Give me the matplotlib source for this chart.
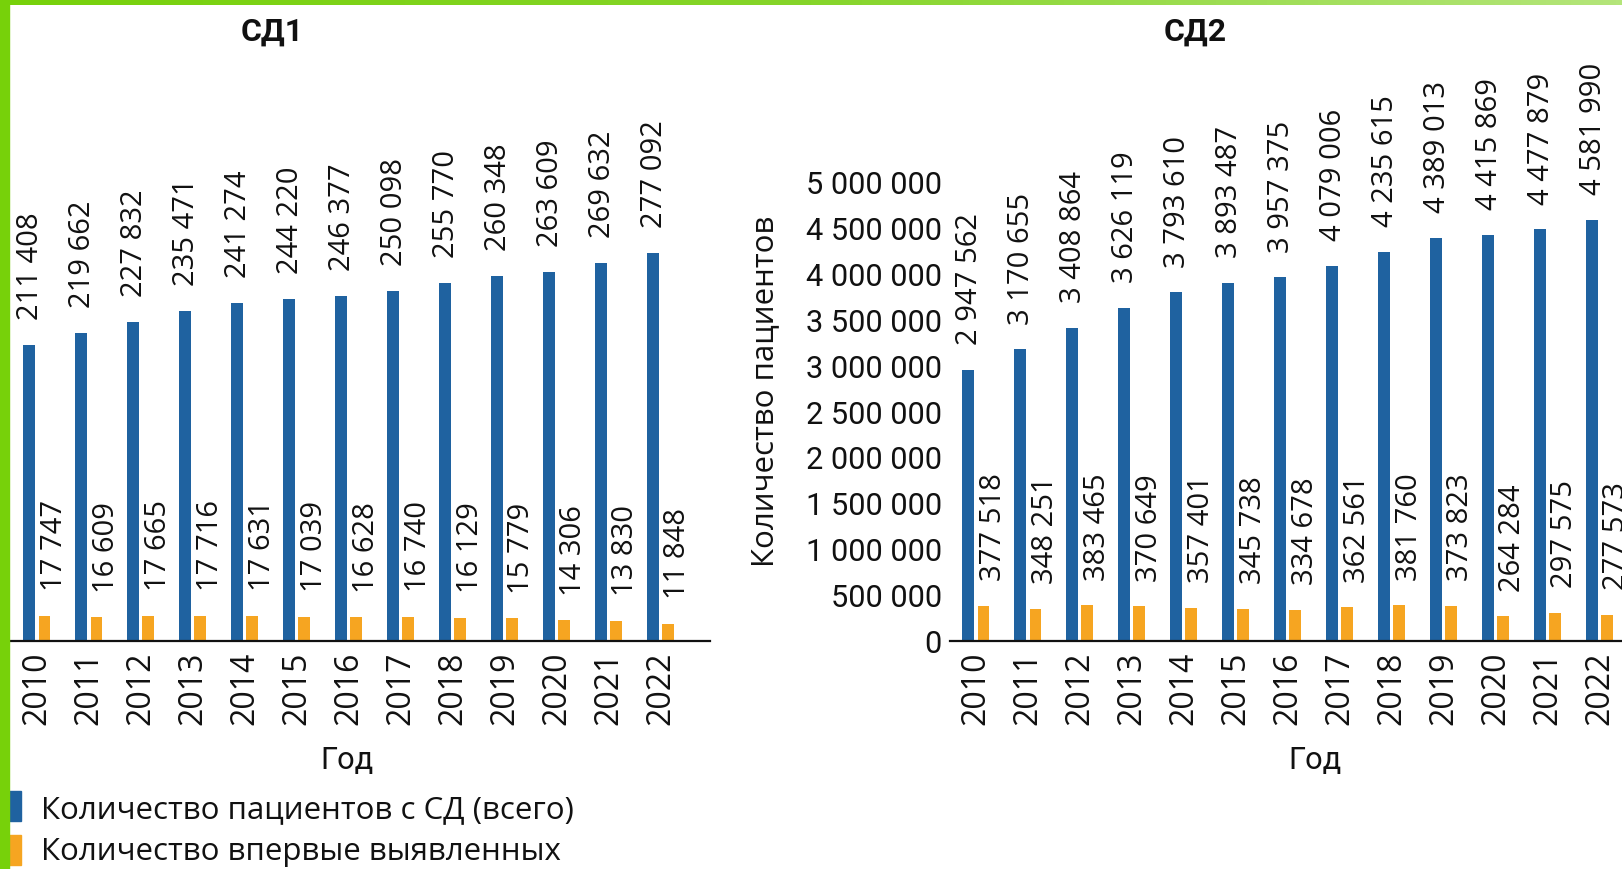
import numpy as np
import matplotlib
matplotlib.use("Agg")
import matplotlib.pyplot as plt
from matplotlib import font_manager
from matplotlib.font_manager import FontProperties
from matplotlib.patches import Rectangle
from matplotlib.colors import LinearSegmentedColormap

# ---------------- data ----------------
years = ['2010', '2011', '2012', '2013', '2014', '2015', '2016',
         '2017', '2018', '2019', '2020', '2021', '2022']
sd1_total = [211408, 219662, 227832, 235471, 241274, 244220, 246377,
             250098, 255770, 260348, 263609, 269632, 277092]
sd1_new = [17747, 16609, 17665, 17716, 17631, 17039, 16628,
           16740, 16129, 15779, 14306, 13830, 11848]
sd2_total = [2947562, 3170655, 3408864, 3626119, 3793610, 3893487, 3957375,
             4079006, 4235615, 4389013, 4415869, 4477879, 4581990]
sd2_new = [377518, 348251, 383465, 370649, 357401, 345738, 334678,
           362561, 381760, 373823, 264284, 297575, 277573]
sd2_yticks = [0, 500000, 1000000, 1500000, 2000000, 2500000,
              3000000, 3500000, 4000000, 4500000, 5000000]
titles = ['СД1', 'СД2']
xlabel = 'Год'
ylabel = 'Количество пациентов'
legend_labels = ['Количество пациентов с СД (всего)',
                 'Количество впервые выявленных']

BLUE = '#1f62a0'
ORANGE = '#f6a521'
GREEN = '#77d10a'


def has_font(name):
    try:
        font_manager.findfont(FontProperties(family=name), fallback_to_default=False)
        return True
    except Exception:
        return False


MAIN = 'Open Sans' if has_font('Open Sans') else 'DejaVu Sans'
if has_font('Liberation Sans Narrow'):
    NARROW, nscale = 'Liberation Sans Narrow', 1.0
else:
    NARROW, nscale = 'Roboto', 0.82

plt.rcParams['font.family'] = [MAIN, 'DejaVu Sans']


def fmt(v):
    return f"{v:,}".replace(",", " ")


W, H = 1622, 870
fig = plt.figure(figsize=(W / 100, H / 100), dpi=100)


def fx(px):
    return px / W


def fy(py):
    return 1 - py / H


ax_bottom = fy(641.5)
ax_h = 459 / H
ax_w = fx(699)

ax1 = fig.add_axes([fx(11), ax_bottom, ax_w, ax_h])
ax2 = fig.add_axes([fx(950), ax_bottom, ax_w, ax_h])

x = np.arange(len(years))
off = 0.145
bw = 0.23

for ax, tot, new, ymax in [(ax1, sd1_total, sd1_new, 328000),
                           (ax2, sd2_total, sd2_new, 5000000)]:
    ax.bar(x - off, tot, width=bw, color=BLUE, zorder=2)
    ax.bar(x + off, new, width=bw, color=ORANGE, zorder=2)
    ax.set_xlim(-0.5, 12.95)
    ax.set_ylim(0, ymax)
    for s in ['top', 'right', 'left']:
        ax.spines[s].set_visible(False)
    ax.spines['bottom'].set_linewidth(1.6)
    ax.spines['bottom'].set_color('#111111')
    ax.set_xticks(x)
    ax.set_xticklabels(years, rotation=90, fontsize=23, color='#111111')
    ax.tick_params(axis='x', length=0, pad=7)
    ax.patch.set_alpha(0)
    for xi, v in zip(x, tot):
        ax.annotate(fmt(v), (xi - off, v), xytext=(1, 18.5),
                    textcoords='offset points', rotation=90,
                    ha='center', va='bottom', fontsize=21, color='#111111',
                    annotation_clip=False)
    for xi, v in zip(x, new):
        ax.annotate(fmt(v), (xi + off, v), xytext=(7, 18.5),
                    textcoords='offset points', rotation=90,
                    ha='center', va='bottom', fontsize=21, color='#111111',
                    annotation_clip=False)

ax1.set_yticks([])
ax2.set_yticks(sd2_yticks)
ax2.set_yticklabels([fmt(v) for v in sd2_yticks], family=NARROW,
                    fontsize=27 * nscale, color='#111111')
ax2.tick_params(axis='y', length=0, pad=6)

# titles
fig.text(fx(272), fy(32), titles[0], family=NARROW, fontweight='bold',
         fontsize=28 * nscale, ha='center', va='center', color='#111111')
fig.text(fx(1195), fy(32), titles[1], family=NARROW, fontweight='bold',
         fontsize=28 * nscale, ha='center', va='center', color='#111111')

# axis labels
fig.text(fx(347), fy(761), xlabel, family=NARROW, fontsize=27 * nscale,
         ha='center', va='center', color='#111111')
fig.text(fx(1315), fy(761), xlabel, family=NARROW, fontsize=27 * nscale,
         ha='center', va='center', color='#111111')
fig.text(fx(765), fy(391), ylabel, rotation=90, fontsize=22.5,
         ha='center', va='center', color='#111111')

# legend
for (py0, col, lab, ty) in [(792, BLUE, legend_labels[0], 810),
                            (836, ORANGE, legend_labels[1], 852)]:
    fig.patches.append(Rectangle((fx(8), fy(py0 + 30)), fx(13), 30 / H,
                                 transform=fig.transFigure, color=col,
                                 zorder=1))
    fig.text(fx(41), fy(ty), lab, fontsize=22.5, ha='left', va='center',
             color='#111111')

# green frame
fig.patches.append(Rectangle((0, 0), fx(9), 1, transform=fig.transFigure,
                             color=GREEN, zorder=5))
gax = fig.add_axes([0, fy(6), 1, 6 / H])
cmap = LinearSegmentedColormap.from_list('g', [GREEN, '#86d52a', '#b4e57a'])
gax.imshow(np.linspace(0, 1, 256).reshape(1, -1), cmap=cmap, aspect='auto',
           extent=[0, 1, 0, 1])
gax.set_axis_off()

fig.savefig('out.png', dpi=100)
